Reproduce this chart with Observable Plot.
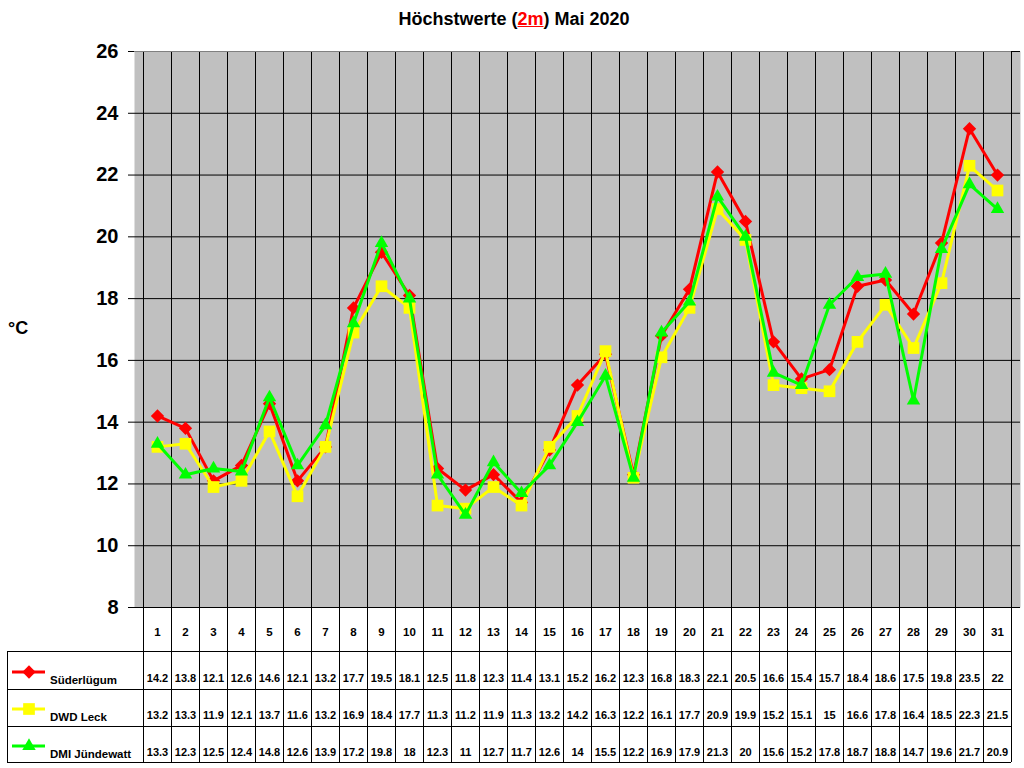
<!DOCTYPE html>
<html>
<head>
<meta charset="utf-8">
<script src="https://cdn.jsdelivr.net/npm/d3@7"></script>
<script src="https://cdn.jsdelivr.net/npm/@observablehq/plot@0.6"></script>
<style>
  html, body { margin: 0; padding: 0; background: #fff; }
  body { font-family: "Liberation Sans", Arial, sans-serif; }
  #wrap { position: relative; width: 1024px; height: 768px; }
  #title { position: absolute; top: 9px; left: 0; width: 1028px; text-align: center;
           font-size: 18px; font-weight: bold; color: #000; }
  #title span { color: #ff0000; text-decoration: underline; }
  #wrap svg { position: absolute; left: 0; top: 0; }
</style>
</head>
<body>
<div id="wrap">
  <div id="chart"></div>
  <div id="title">Höchstwerte (<span>2m</span>) Mai 2020</div>
</div>
<script>
const days = d3.range(1, 32);
const yTicks = [8, 10, 12, 14, 16, 18, 20, 22, 24, 26];
const seriesNames = ["Süderlügum", "DWD Leck", "DMI Jündewatt"];
const seriesColors = ["#ff0000", "#ffff00", "#00ff00"];
const seriesSymbols = ["diamond2", "square", "triangle"];
const seriesRadii = [6, 6.6, 5];
const suederluegum = [14.2,13.8,12.1,12.6,14.6,12.1,13.2,17.7,19.5,18.1,12.5,11.8,12.3,11.4,13.1,15.2,16.2,12.3,16.8,18.3,22.1,20.5,16.6,15.4,15.7,18.4,18.6,17.5,19.8,23.5,22];
const dwdLeck = [13.2,13.3,11.9,12.1,13.7,11.6,13.2,16.9,18.4,17.7,11.3,11.2,11.9,11.3,13.2,14.2,16.3,12.2,16.1,17.7,20.9,19.9,15.2,15.1,15,16.6,17.8,16.4,18.5,22.3,21.5];
const dmiJuendewatt = [13.3,12.3,12.5,12.4,14.8,12.6,13.9,17.2,19.8,18,12.3,11,12.7,11.7,12.6,14,15.5,12.2,16.9,17.9,21.3,20,15.6,15.2,17.8,18.7,18.8,14.7,19.6,21.7,20.9];

const seriesValues = [suederluegum, dwdLeck, dmiJuendewatt];
const series = seriesNames.map((name, k) => ({
  name, color: seriesColors[k], symbol: seriesSymbols[k], r: seriesRadii[k],
  data: days.map((d, i) => ({day: d, value: seriesValues[k][i]}))
}));

const W = 1024, H = 768;
const mL = 134, mR = 4, mT = 51, mB = 161;
const rowDy = [74, 111, 148];

const marks = [
  Plot.frame({fill: "#c0c0c0", stroke: null}),
  Plot.ruleY(yTicks, {y: d => d, stroke: "#000", strokeWidth: 1}),
  Plot.axisY({ticks: yTicks, tickSize: 6, tickPadding: 10, fontSize: 20, fontWeight: "bold",
              label: null, tickFormat: d => String(d), stroke: "#000"}),
  Plot.text(days, {x: d => d, text: d => String(d), frameAnchor: "bottom", dy: 28,
                   fontSize: 11.5, fontWeight: "bold", fill: "#000"})
];
series.forEach((s, k) => {
  marks.push(Plot.line(s.data, {x: "day", y: "value", stroke: s.color, strokeWidth: 3}));
  marks.push(Plot.dot(s.data, {x: "day", y: "value", symbol: () => s.symbol, fill: s.color, stroke: null, r: s.r}));
  marks.push(Plot.text(s.data, {x: "day", text: d => String(d.value), frameAnchor: "bottom", dy: rowDy[k],
                                fontSize: 11, fontWeight: "bold", fill: "#000"}));
});

const plot = Plot.plot({
  width: W, height: H,
  marginLeft: mL, marginRight: mR, marginTop: mT, marginBottom: mB,
  x: {type: "point", domain: days, padding: 0.5, axis: null},
  y: {domain: [8, 26], axis: null},
  symbol: {type: "identity"},
  style: {fontFamily: "Liberation Sans, Arial, sans-serif", background: "#fff", overflow: "visible"},
  marks
});
document.getElementById("chart").appendChild(plot);

// grid columns and table lines
const svg = d3.select(plot);
const xs = plot.scale("x");
const step = xs.step !== undefined ? xs.step : (W - mL - mR) / days.length;
const edges = [xs.apply(days[0]) - step / 2, ...days.map(d => xs.apply(d) + step / 2)];
const plotTop = mT, tableBottom = 762, tableLeft = 7;
const rowLines = [651, 689, 726, 762];
const right = edges[edges.length - 1];

const g = svg.insert("g", '[aria-label="line"]').attr("stroke", "#000").attr("stroke-width", 1).attr("shape-rendering", "crispEdges");
edges.forEach(x => g.append("line").attr("x1", x).attr("x2", x).attr("y1", plotTop).attr("y2", tableBottom));
rowLines.forEach(y => g.append("line").attr("x1", tableLeft).attr("x2", right).attr("y1", y).attr("y2", y));
g.append("line").attr("x1", tableLeft).attr("x2", tableLeft).attr("y1", rowLines[0]).attr("y2", tableBottom);
g.append("line").attr("x1", mL).attr("x2", right).attr("y1", plotTop).attr("y2", plotTop).attr("stroke", "#808080");

// legend inside table
const legendY = [672, 709, 746];
const lg = svg.append("g").attr("text-anchor", "start");
series.forEach((s, k) => {
  lg.append("line").attr("x1", 12).attr("x2", 45).attr("y1", legendY[k]).attr("y2", legendY[k])
    .attr("stroke", s.color).attr("stroke-width", 3);
  const symType = {diamond2: d3.symbolDiamond2, square: d3.symbolSquare, triangle: d3.symbolTriangle}[s.symbol];
  lg.append("path").attr("d", d3.symbol(symType, Math.PI * s.r * s.r)())
    .attr("transform", `translate(29,${legendY[k]})`).attr("fill", s.color);
  lg.append("text").attr("x", 50).attr("y", legendY[k] + 12).attr("font-size", 11.5).attr("font-weight", "bold")
    .attr("text-anchor", "start").attr("fill", "#000").text(s.name);
});

// y unit label
svg.append("text").attr("x", 8).attr("y", 334).attr("font-size", 18).attr("font-weight", "bold")
  .attr("text-anchor", "start").attr("fill", "#000").text("°C");
</script>
</body>
</html>
